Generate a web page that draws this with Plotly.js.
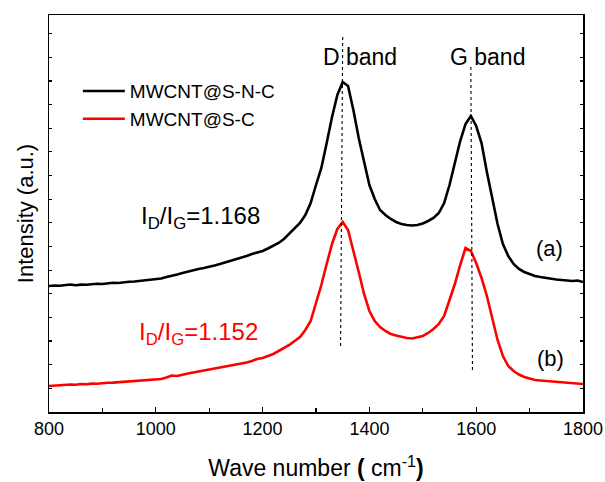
<!DOCTYPE html>
<html>
<head>
<meta charset="utf-8">
<script src="https://cdn.plot.ly/plotly-3.0.1.min.js"></script>
<style>html,body{margin:0;padding:0;background:#fff;}#chart{width:605px;height:482px;}</style>
</head>
<body>
<div id="chart"></div>
<script>
// Raman shift (cm^-1)
var wavenumber = [800,810,820,830,840,850,860,870,880,890,
  900,910,920,930,940,950,960,970,980,990,
  1000,1010,1020,1030,1040,1050,1060,1070,1080,1090,
  1100,1110,1120,1130,1140,1150,1160,1170,1180,1190,
  1200,1210,1220,1230,1240,1250,1260,1270,1280,1290,
  1300,1310,1320,1330,1340,1350,1360,1370,1380,1390,
  1400,1410,1420,1430,1440,1450,1460,1470,1480,1490,
  1500,1510,1520,1530,1540,1550,1560,1570,1580,1590,
  1600,1610,1620,1630,1640,1650,1660,1670,1680,1690,
  1700,1710,1720,1730,1740,1750,1760,1770,1780,1790,1800];

// (a) MWCNT@S-N-C intensity (a.u., offset)
var intensitySNC = [126,126.5,126.2,127,127.5,126.8,127.4,127.2,127.8,128.2,
  128,128.8,129.2,129,129.8,130.2,130.5,131,131.8,132.2,
  133,133.5,135,136,137.5,139,140.5,141.5,143,144,
  145,146.5,148,149.5,151,152.5,154,156,158,159.5,
  161,163.5,166,169,173,178,183.5,189,197,209,
  227,244,269,295,317,330,326,302,274,249,
  227,213,202,197,193,190,188,187,186.5,187,
  188.5,191,194,199,209,227,249,271,288,296,
  286,269,240,213,188,168,156,148,143,140,
  138,136,135,134,133,132.5,132,131.5,131,131.5,130];

// (b) MWCNT@S-C intensity (a.u., offset)
var intensitySC = [26,26.5,27,26.8,27.5,27.2,28,27.7,28.4,28.2,
  29,29.2,29.4,29.8,30,30.3,30.6,30.8,31.2,31.5,
  32,33,34.5,36.5,36,37.5,38.5,39.5,40.5,41.5,
  42,43,44.5,45,46,47,48.5,49.5,51,53,
  54,56,58,61,64,67,71,75,82,91,
  109,127,148,168,183,190,182,162,140,118,
  101,91,85,81,78,76.5,75,74,73.5,74.5,
  76,79,83,88,96,112,128,147,164,161,
  149,134,116,94,72,56,46,41,37.5,35,
  33.5,32,31.5,31,30.5,30,29.5,29,29,28.5,28];

var seriesNames = ['MWCNT@S-N-C', 'MWCNT@S-C'];
var ratioLabels = ['I<sub>D</sub>/I<sub>G</sub>=1.168', 'I<sub>D</sub>/I<sub>G</sub>=1.152'];
var curveLabels = ['(a)', '(b)'];
var bandLabels = ['D band', 'G band'];
var xTickVals = [800,1000,1200,1400,1600,1800];

var FONT = 'Arial, "Liberation Sans", sans-serif';

var traces = [
  {x: wavenumber, y: intensitySNC, type: 'scatter', mode: 'lines', name: seriesNames[0],
   line: {color: '#000000', width: 2.6}},
  {x: wavenumber, y: intensitySC, type: 'scatter', mode: 'lines', name: seriesNames[1],
   line: {color: '#ff0000', width: 2.6}}
];

var layout = {
  width: 605, height: 482,
  margin: {l: 49, r: 22, t: 15, b: 70, pad: 0},
  paper_bgcolor: '#fff', plot_bgcolor: '#fff',
  font: {family: FONT, color: '#000'},
  showlegend: true,
  legend: {x: 0.054, y: 0.856, xanchor: 'left', yanchor: 'top', itemwidth: 42,
    bgcolor: 'rgba(0,0,0,0)', borderwidth: 0, font: {family: FONT, size: 19, color: '#000'},
    tracegroupgap: 0},
  xaxis: {
    range: [800, 1800], tickvals: xTickVals, ticktext: xTickVals.map(String),
    ticks: 'inside', ticklen: 5, tickwidth: 1.2, tickcolor: '#000',
    minor: {dtick: 100, ticks: 'inside', ticklen: 4, tickwidth: 1.2, tickcolor: '#000', showgrid: false},
    showline: true, linecolor: '#000', linewidth: 1.5, mirror: true,
    showgrid: false, zeroline: false,
    tickfont: {family: FONT, size: 18, color: '#000'},
    title: {text: 'Wave number <b>(</b> cm<sup>-1</sup><b>)</b>', font: {family: FONT, size: 23, color: '#000'}, standoff: 22}
  },
  yaxis: {
    range: [0, 397], tick0: 0, dtick: 23.65, showticklabels: false,
    ticks: 'inside', ticklen: 3, tickwidth: 1.2, tickcolor: '#000',
    showline: true, linecolor: '#000', linewidth: 1.5, mirror: 'ticks',
    showgrid: false, zeroline: false,
    title: {text: 'Intensity (a.u.)', font: {family: FONT, size: 22, color: '#000'}, standoff: 8}
  },
  shapes: [
    {type: 'line', xref: 'x', yref: 'y', x0: 1350, y0: 375, x1: 1346, y1: 65,
     line: {color: '#000', width: 1.1, dash: 'dot'}},
    {type: 'line', xref: 'x', yref: 'y', x0: 1590, y0: 345, x1: 1593, y1: 42,
     line: {color: '#000', width: 1.1, dash: 'dot'}}
  ],
  annotations: [
    {x: 1382, y: 355, xref: 'x', yref: 'y', text: bandLabels[0], showarrow: false,
     font: {family: FONT, size: 23, color: '#000'}},
    {x: 1621, y: 355, xref: 'x', yref: 'y', text: bandLabels[1], showarrow: false,
     font: {family: FONT, size: 23, color: '#000'}},
    {x: 968, y: 195, xref: 'x', yref: 'y', xanchor: 'left', text: ratioLabels[0], showarrow: false,
     font: {family: FONT, size: 24, color: '#000'}},
    {x: 965, y: 79, xref: 'x', yref: 'y', xanchor: 'left', text: ratioLabels[1], showarrow: false,
     font: {family: FONT, size: 24, color: '#ff0000'}},
    {x: 1738, y: 164, xref: 'x', yref: 'y', text: curveLabels[0], showarrow: false,
     font: {family: FONT, size: 22, color: '#000'}},
    {x: 1740, y: 54, xref: 'x', yref: 'y', text: curveLabels[1], showarrow: false,
     font: {family: FONT, size: 22, color: '#000'}}
  ]
};

Plotly.newPlot('chart', traces, layout, {staticPlot: true, displayModeBar: false});
</script>
</body>
</html>
